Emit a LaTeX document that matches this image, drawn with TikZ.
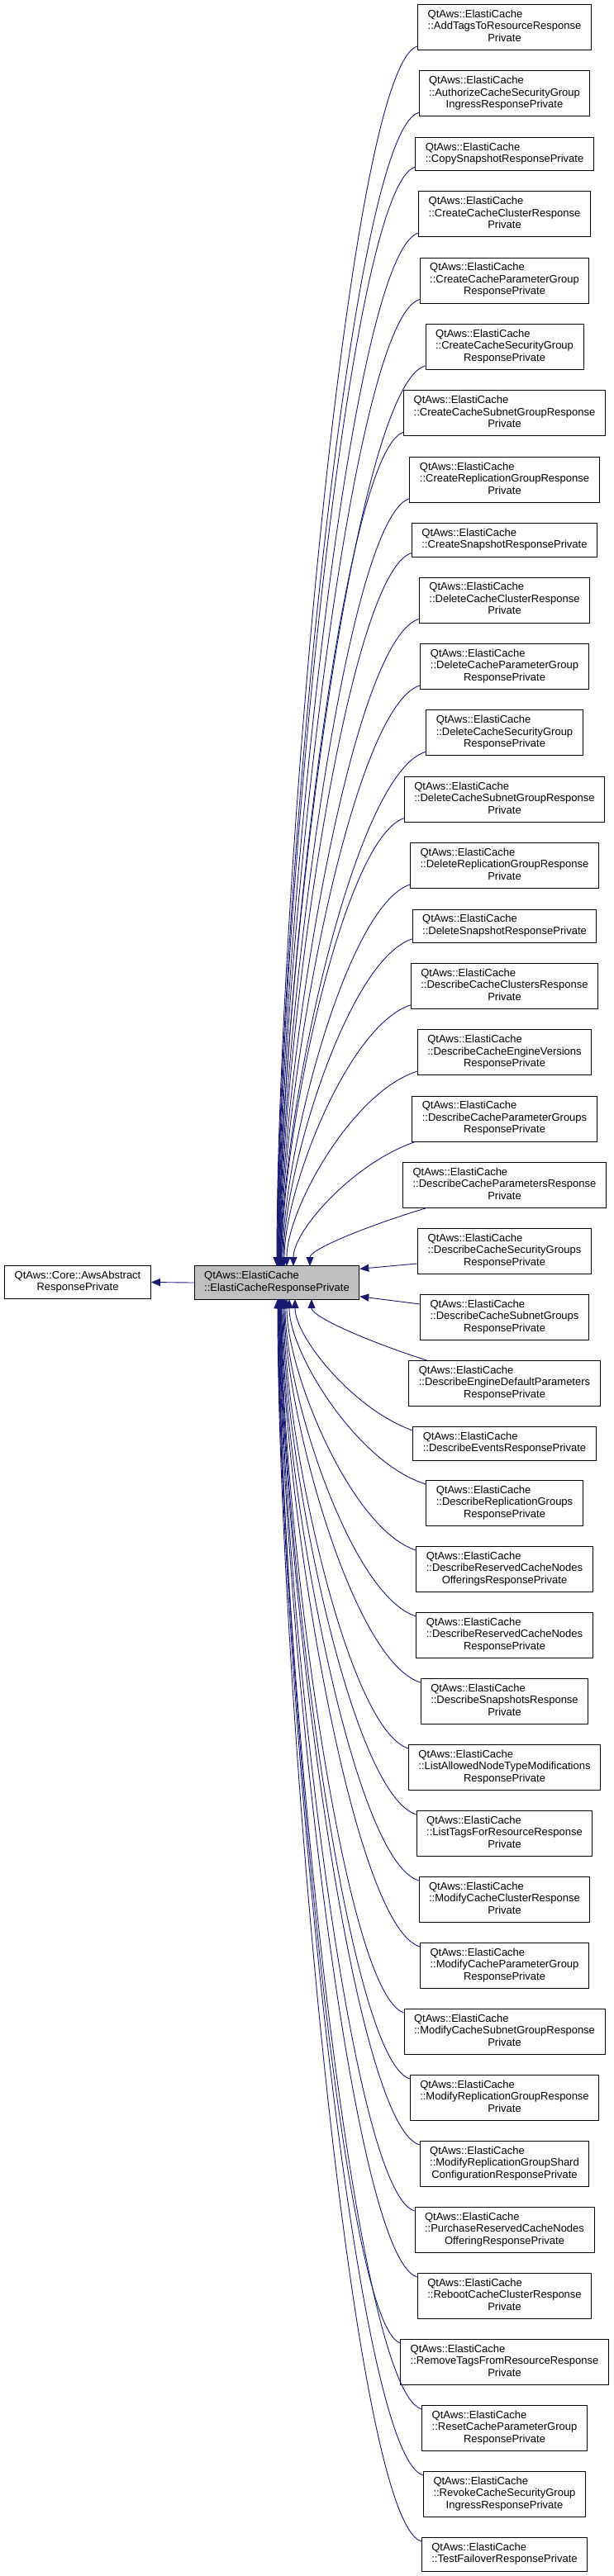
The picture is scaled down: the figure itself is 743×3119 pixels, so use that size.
\documentclass[tikz,border=0pt]{standalone}
\usepackage{fontspec}
\setmainfont{Liberation Sans}
\usetikzlibrary{calc,arrows.meta}
\definecolor{edgeblue}{RGB}{25,25,112}
\definecolor{midgray}{RGB}{191,191,191}
\newcommand{\threel}[3]{\begin{tabular}{@{}l@{}}#1\\#2\\\multicolumn{1}{@{}c@{}}{#3}\end{tabular}}
\newcommand{\twol}[2]{\begin{tabular}{@{}l@{}}#1\\#2\end{tabular}}
\newcommand{\upedge}[2]{\draw[edge] let \p1 = #1, \p2 = (#2,-1533) in (\p1) .. controls ({\x1-0.5*(\x1-\x2)}, {\y1-min(25,0.3*((\y1)-(\y2)))}) and (\x2, {\y2+0.29*((\y1)-(\y2))}) .. (\p2);}
\newcommand{\downedge}[2]{\draw[edge] let \p1 = #1, \p2 = (#2,-1573) in (\p1) .. controls ({\x1-0.5*(\x1-\x2)}, {\y1+min(25,0.3*((\y2)-(\y1)))}) and (\x2, {\y2-0.29*((\y2)-(\y1))}) .. (\p2);}
\tikzset{
  box/.style={draw=black, line width=0.9pt, inner xsep=12pt, inner ysep=5.75pt, fill=white, font=\fontsize{13}{14.5}\selectfont},
  rn/.style={box, anchor=north},
  edge/.style={draw=edgeblue, line width=0.9pt, -{Triangle[length=11pt,width=9pt]}}
}
\begin{document}
\begin{tikzpicture}[x=1pt,y=1pt]
\useasboundingbox (0,0) rectangle (743,-3119);
\fill[white] (0,0) rectangle (743,-3119);
\def\QA{QtAws::ElastiCache}
\node[box, fill=midgray] (mid) at (335,-1553) {\twol{\QA}{::ElastiCacheResponsePrivate}};
\node[box] (base) at (94,-1552.5) {\begin{tabular}{@{}c@{}}QtAws::Core::AwsAbstract\\ResponsePrivate\end{tabular}};
\node[rn] (n1) at (610.5,-5) {\threel{\QA}{::AddTagsToResourceResponse}{Private}};
\node[rn] (n2) at (610.5,-85.4) {\threel{\QA}{::AuthorizeCacheSecurityGroup}{IngressResponsePrivate}};
\node[rn] (n3) at (610.5,-165.8) {\twol{\QA}{::CopySnapshotResponsePrivate}};
\node[rn] (n4) at (610.5,-231.2) {\threel{\QA}{::CreateCacheClusterResponse}{Private}};
\node[rn] (n5) at (610.5,-311.6) {\threel{\QA}{::CreateCacheParameterGroup}{ResponsePrivate}};
\node[rn] (n6) at (610.5,-392) {\threel{\QA}{::CreateCacheSecurityGroup}{ResponsePrivate}};
\node[rn] (n7) at (610.5,-472.3) {\threel{\QA}{::CreateCacheSubnetGroupResponse}{Private}};
\node[rn] (n8) at (610.5,-552.7) {\threel{\QA}{::CreateReplicationGroupResponse}{Private}};
\node[rn] (n9) at (610.5,-633.1) {\twol{\QA}{::CreateSnapshotResponsePrivate}};
\node[rn] (n10) at (610.5,-698.5) {\threel{\QA}{::DeleteCacheClusterResponse}{Private}};
\node[rn] (n11) at (610.5,-778.9) {\threel{\QA}{::DeleteCacheParameterGroup}{ResponsePrivate}};
\node[rn] (n12) at (610.5,-859.3) {\threel{\QA}{::DeleteCacheSecurityGroup}{ResponsePrivate}};
\node[rn] (n13) at (610.5,-939.7) {\threel{\QA}{::DeleteCacheSubnetGroupResponse}{Private}};
\node[rn] (n14) at (610.5,-1020.1) {\threel{\QA}{::DeleteReplicationGroupResponse}{Private}};
\node[rn] (n15) at (610.5,-1100.5) {\twol{\QA}{::DeleteSnapshotResponsePrivate}};
\node[rn] (n16) at (610.5,-1165.9) {\threel{\QA}{::DescribeCacheClustersResponse}{Private}};
\node[rn] (n17) at (610.5,-1246.2) {\threel{\QA}{::DescribeCacheEngineVersions}{ResponsePrivate}};
\node[rn] (n18) at (610.5,-1326.6) {\threel{\QA}{::DescribeCacheParameterGroups}{ResponsePrivate}};
\node[rn] (n19) at (610.5,-1407) {\threel{\QA}{::DescribeCacheParametersResponse}{Private}};
\node[rn] (n20) at (610.5,-1487) {\threel{\QA}{::DescribeCacheSecurityGroups}{ResponsePrivate}};
\node[rn] (n21) at (610.5,-1567) {\threel{\QA}{::DescribeCacheSubnetGroups}{ResponsePrivate}};
\node[rn] (n22) at (610.5,-1647) {\threel{\QA}{::DescribeEngineDefaultParameters}{ResponsePrivate}};
\node[rn] (n23) at (610.5,-1727) {\twol{\QA}{::DescribeEventsResponsePrivate}};
\node[rn] (n24) at (610.5,-1792) {\threel{\QA}{::DescribeReplicationGroups}{ResponsePrivate}};
\node[rn] (n25) at (610.5,-1872) {\threel{\QA}{::DescribeReservedCacheNodes}{OfferingsResponsePrivate}};
\node[rn] (n26) at (610.5,-1952) {\threel{\QA}{::DescribeReservedCacheNodes}{ResponsePrivate}};
\node[rn] (n27) at (610.5,-2032) {\threel{\QA}{::DescribeSnapshotsResponse}{Private}};
\node[rn] (n28) at (610.5,-2112) {\threel{\QA}{::ListAllowedNodeTypeModifications}{ResponsePrivate}};
\node[rn] (n29) at (610.5,-2192) {\threel{\QA}{::ListTagsForResourceResponse}{Private}};
\node[rn] (n30) at (610.5,-2272) {\threel{\QA}{::ModifyCacheClusterResponse}{Private}};
\node[rn] (n31) at (610.5,-2352) {\threel{\QA}{::ModifyCacheParameterGroup}{ResponsePrivate}};
\node[rn] (n32) at (610.5,-2432) {\threel{\QA}{::ModifyCacheSubnetGroupResponse}{Private}};
\node[rn] (n33) at (610.5,-2512) {\threel{\QA}{::ModifyReplicationGroupResponse}{Private}};
\node[rn] (n34) at (610.5,-2592) {\threel{\QA}{::ModifyReplicationGroupShard}{ConfigurationResponsePrivate}};
\node[rn] (n35) at (610.5,-2672) {\threel{\QA}{::PurchaseReservedCacheNodes}{OfferingResponsePrivate}};
\node[rn] (n36) at (610.5,-2752) {\threel{\QA}{::RebootCacheClusterResponse}{Private}};
\node[rn] (n37) at (610.5,-2832) {\threel{\QA}{::RemoveTagsFromResourceResponse}{Private}};
\node[rn] (n38) at (610.5,-2912) {\threel{\QA}{::ResetCacheParameterGroup}{ResponsePrivate}};
\node[rn] (n39) at (610.5,-2992) {\threel{\QA}{::RevokeCacheSecurityGroup}{IngressResponsePrivate}};
\node[rn] (n40) at (610.5,-3072) {\twol{\QA}{::TestFailoverResponsePrivate}};
% edges
\draw[edge] (mid.west) -- (base.east);
\upedge{($(n1.south west)+(0,5)$)}{335}
\upedge{($(n2.south west)+(0,5)$)}{335.5}
\upedge{($(n3.south west)+(0,5)$)}{336}
\upedge{($(n4.south west)+(0,5)$)}{336.5}
\upedge{($(n5.south west)+(0,5)$)}{337}
\upedge{($(n6.south west)+(0,5)$)}{337.5}
\upedge{($(n7.south west)+(0,5)$)}{338}
\upedge{($(n8.south west)+(0,5)$)}{338.5}
\upedge{($(n9.south west)+(0,5)$)}{339}
\upedge{($(n10.south west)+(0,5)$)}{339.5}
\upedge{($(n11.south west)+(0,5)$)}{340}
\upedge{($(n12.south west)+(0,5)$)}{340.5}
\upedge{($(n13.south west)+(0,5)$)}{341}
\upedge{($(n14.south west)+(0,5)$)}{342}
\upedge{($(n15.south west)+(0,5)$)}{343}
\upedge{($(n16.south west)+(0,5)$)}{344}
\upedge{($(n17.south west)+(0,5)$)}{347}
\upedge{($(n18.south west)+(4,0)$)}{355}
\upedge{($(n19.south west)+(28,0)$)}{375}
\draw[edge] ($(n20.south west)+(0,13)$) -- ($(mid.north east)+(0,-4)$);
\draw[edge] ($(n21.north west)+(0,-12)$) -- ($(mid.south east)+(0,4)$);
\downedge{($(n22.north west)+(22,0)$)}{377}
\downedge{($(n23.north west)+(0,-5)$)}{357}
\downedge{($(n24.north west)+(0,-5)$)}{350}
\downedge{($(n25.north west)+(0,-5)$)}{347}
\downedge{($(n26.north west)+(0,-5)$)}{345}
\downedge{($(n27.north west)+(0,-5)$)}{344}
\downedge{($(n28.north west)+(0,-5)$)}{343}
\downedge{($(n29.north west)+(0,-5)$)}{342}
\downedge{($(n30.north west)+(0,-5)$)}{341}
\downedge{($(n31.north west)+(0,-5)$)}{340.5}
\downedge{($(n32.north west)+(0,-5)$)}{340}
\downedge{($(n33.north west)+(0,-5)$)}{339.5}
\downedge{($(n34.north west)+(0,-5)$)}{339}
\downedge{($(n35.north west)+(0,-5)$)}{338.5}
\downedge{($(n36.north west)+(0,-5)$)}{338}
\downedge{($(n37.north west)+(0,-5)$)}{337.5}
\downedge{($(n38.north west)+(0,-5)$)}{337}
\downedge{($(n39.north west)+(0,-5)$)}{336.5}
\downedge{($(n40.north west)+(0,-5)$)}{336}
\end{tikzpicture}
\end{document}
